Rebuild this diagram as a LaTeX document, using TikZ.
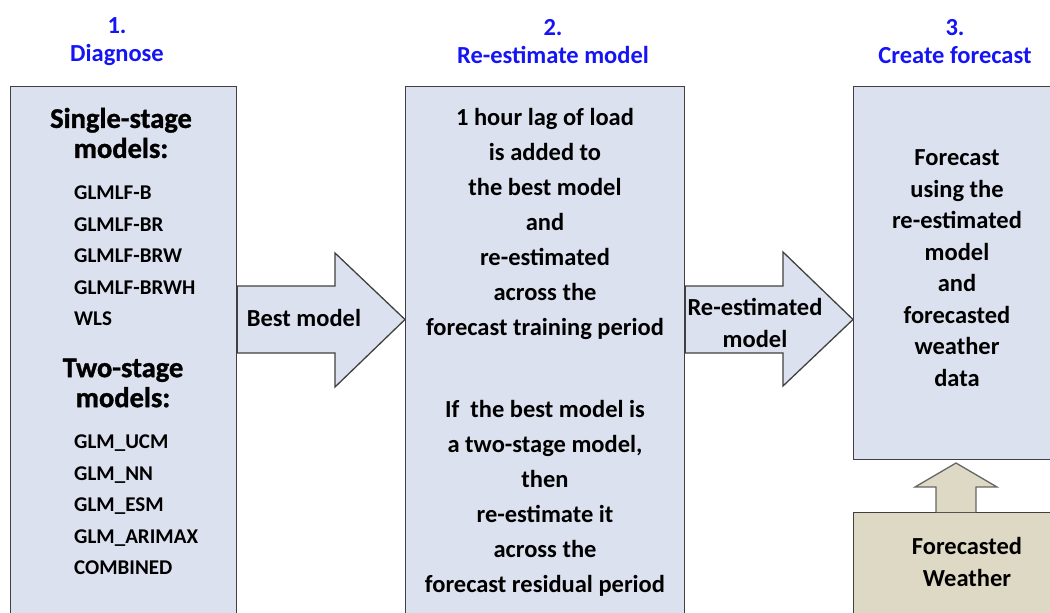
\documentclass[tikz,border=0pt]{standalone}
\usepackage{fontspec}
\setmainfont{Carlito}
\newfontfamily\heavyfont{Carlito}[BoldFeatures={FakeBold=1.2}]
\usetikzlibrary{calc}
\definecolor{panelfill}{HTML}{DCE1EF}
\definecolor{tanfill}{HTML}{DDD9C4}
\definecolor{edgegray}{HTML}{404040}
\definecolor{steptitle}{HTML}{1414F5}
\begin{document}
\begin{tikzpicture}[x=1pt,y=-1pt,
  panel/.style={draw=edgegray, line width=1.3pt, fill=panelfill, anchor=north west, inner sep=0pt},
  fatarrow/.style={draw=edgegray, line width=1.3pt, fill=panelfill, line join=miter},
  uparrow/.style={draw=edgegray!80, line width=1.3pt, fill=tanfill, line join=miter},
  title/.style={text=steptitle, font=\fontsize{24.5}{28}\selectfont\bfseries, align=center, inner sep=0pt},
  body/.style={font=\fontsize{24.5}{35}\selectfont\bfseries, align=center, inner sep=0pt},
  bodyc/.style={font=\fontsize{24.5}{31.5}\selectfont\bfseries, align=center, inner sep=0pt},
  head/.style={font=\heavyfont\fontsize{28.5}{30}\selectfont\bfseries, align=center, inner sep=0pt},
  item/.style={font=\fontsize{21}{31.5}\selectfont\bfseries, align=left, inner sep=0pt, anchor=west},
  lbl/.style={font=\fontsize{24.5}{32}\selectfont\bfseries, align=center, inner sep=0pt}]
\useasboundingbox (0,0) rectangle (1050,613);
\clip (0,0) rectangle (1050,613);

% step titles
\node[title] (t1) at (117,42) {1.\\Diagnose};
\node[title] (t2) at (553,42) {2.\\Re-estimate model};
\node[title] (t3) at (955,42) {3.\\Create forecast};

% panels
\node[panel, minimum width=226pt, minimum height=540pt] (diag) at (10,86) {};
\node[panel, minimum width=279pt, minimum height=540pt] (reest) at (405,86) {};
\node[panel, minimum width=215pt, minimum height=373pt] (fcst) at (853,86) {};
\node[panel, fill=tanfill, minimum width=215pt, minimum height=120pt] (wx) at (853,512) {};

% fat arrows between the panels
\draw[fatarrow] (diag.north east |- 0,286) -- (335,286) -- (335,253) -- (reest.west |- 0,319.5) -- (335,387) -- (335,353) -- (diag.north east |- 0,353) -- cycle;
\draw[fatarrow] (reest.north east |- 0,286) -- (783,286) -- (783,252) -- (fcst.west |- 0,319.5) -- (783,386) -- (783,353) -- (reest.north east |- 0,353) -- cycle;
\draw[uparrow] (936,512) -- (936,487) -- (915,487) -- (956,463) -- (997,487) -- (976,487) -- (976,512);

% arrow labels
\node[lbl] (bm) at (304,318) {Best model};
\node[lbl] (rm) at (755,323) {Re-estimated\\model};

% panel 1 contents
\node[head] (h1) at (121,133) {Single-stage\\models:};
\node[item] (i1) at (74,256) {GLMLF-B\\GLMLF-BR\\GLMLF-BRW\\GLMLF-BRWH\\WLS};
\node[head] (h2) at (123,383) {Two-stage\\models:};
\node[item] (i2) at (74,505) {GLM\_UCM\\GLM\_NN\\GLM\_ESM\\GLM\_ARIMAX\\COMBINED};

% panel 2 contents
\node[body] (b1) at (545,224) {1 hour lag of load\\is added to\\the best model\\and\\re-estimated\\across the\\forecast training period};
\node[body] (b2) at (545,498) {If\ \ the best model is\\a two-stage model,\\then\\re-estimate it\\across the\\forecast residual period};

% panel 3 contents
\node[bodyc] (b3) at (957,268) {Forecast\\using the\\re-estimated\\model\\and\\forecasted\\weather\\data};
\node[lbl] (wt) at (967,562) {Forecasted\\Weather};
\end{tikzpicture}
\end{document}
